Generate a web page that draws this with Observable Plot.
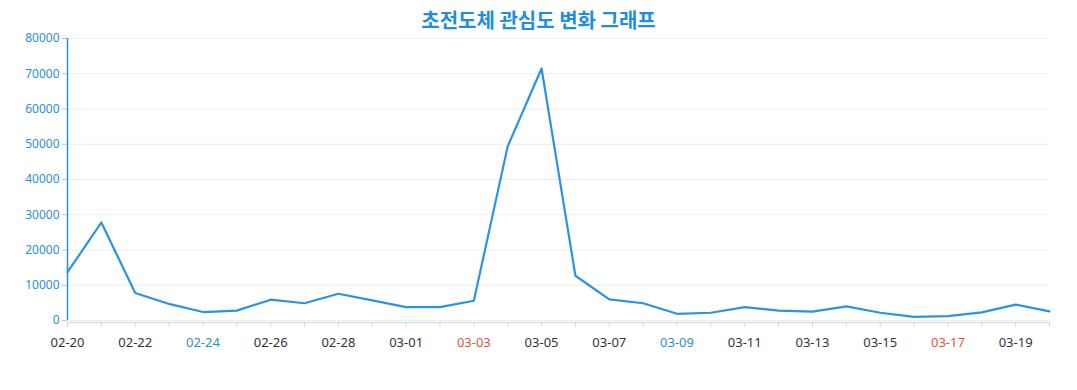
<!DOCTYPE html>
<html>
<head>
<meta charset="utf-8">
<script src="https://cdn.jsdelivr.net/npm/d3@7"></script>
<script src="https://cdn.jsdelivr.net/npm/@observablehq/plot@0.6"></script>
<style>
  html, body { margin: 0; padding: 0; background: #fff; }
  #title { height: 30px; text-align: center; font-family: "Noto Sans CJK KR", "Noto Sans", sans-serif; font-weight: 700; font-size: 20px; line-height: 40px; color: #1f8ee0; }
</style>
</head>
<body>
<div id="title">초전도체 관심도 변화 그래프</div>
<div id="chart"></div>
<script>
const dates = ["02-20","02-21","02-22","02-23","02-24","02-25","02-26","02-27","02-28","02-29",
  "03-01","03-02","03-03","03-04","03-05","03-06","03-07","03-08","03-09","03-10",
  "03-11","03-12","03-13","03-14","03-15","03-16","03-17","03-18","03-19","03-20"];
const values = [13700, 27800, 7800, 4700, 2400, 2800, 5900, 4900, 7600, 5700,
  3800, 3800, 5600, 49400, 71500, 12700, 6000, 4900, 1900, 2200,
  3800, 2800, 2500, 4000, 2200, 1050, 1250, 2300, 4500, 2600];
const yTicks = [0, 10000, 20000, 30000, 40000, 50000, 60000, 70000, 80000];
const labelDates = dates.filter((d, i) => i % 2 === 0);
const blueLabels = ["02-24", "03-09"];
const redLabels = ["03-03", "03-17"];

const data = dates.map((d, i) => ({date: d, value: values[i]}));
const labelColor = d => blueLabels.includes(d) ? "#2e8fce" : redLabels.includes(d) ? "#e0553c" : "#333";

const chart = Plot.plot({
  width: 1077,
  height: 360,
  marginLeft: 67,
  marginRight: 28,
  marginTop: 8,
  marginBottom: 70,
  style: {fontFamily: "'Noto Sans', 'Open Sans', sans-serif", fontSize: "12px", background: "#fff"},
  x: {type: "point", domain: dates, padding: 0, round: false},
  y: {domain: [0, 80000]},
  marks: [
    Plot.gridY(yTicks, {stroke: "#eeeeee", strokeOpacity: 1}),
    Plot.ruleY([0], {stroke: "#dddddd", strokeWidth: 1.5, dy: 2}),
    Plot.axisX({ticks: dates, tickFormat: () => "", tickSize: 5, stroke: "#d6d6d6", dy: 2, label: null}),
    Plot.text(labelDates, {x: d => d, y: () => 0, text: d => d, dy: 22, fill: labelColor, fontSize: 13}),
    Plot.ruleX([dates[0]], {y1: 0, y2: 80000, stroke: "#2b8fe0", strokeWidth: 1.5}),
    Plot.axisY({ticks: yTicks, tickSize: 5, tickPadding: 3, stroke: "#aac8e6", fill: "#2e8fce", label: null, tickFormat: d => String(d), fontSize: 12}),
    Plot.line(data, {x: "date", y: "value", stroke: "#2b93e3", strokeWidth: 2.2})
  ]
});
document.getElementById("chart").appendChild(chart);
</script>
</body>
</html>
